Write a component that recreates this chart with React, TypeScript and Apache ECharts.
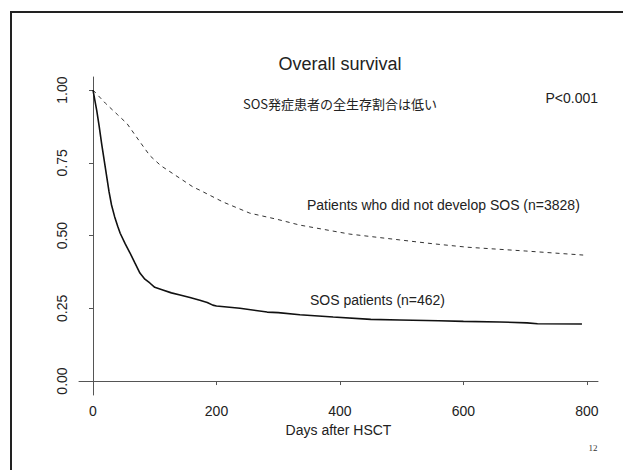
import React, { useEffect, useRef } from "react";
import * as echarts from "echarts";

const xTicks = [0, 200, 400, 600, 800];
const yTicks = [0, 0.25, 0.5, 0.75, 1.0];

const sosDays = [0, 3, 6, 10, 14, 18, 22, 26, 30, 35, 40, 44, 52, 60, 68, 76, 84, 92, 100, 113, 127, 141, 157, 173, 185, 194, 200, 238, 282, 300, 335, 389, 450, 497, 560, 600, 659, 703, 720, 792];
const sosSurv = [1.0, 0.965, 0.93, 0.875, 0.815, 0.76, 0.705, 0.65, 0.605, 0.565, 0.532, 0.508, 0.472, 0.44, 0.405, 0.371, 0.35, 0.337, 0.322, 0.313, 0.303, 0.296, 0.287, 0.278, 0.27, 0.261, 0.258, 0.25, 0.237, 0.235, 0.228, 0.22, 0.212, 0.21, 0.207, 0.205, 0.203, 0.2, 0.197, 0.196];

const noSosDays = [0, 20, 40, 55, 75, 92, 110, 130, 162, 173, 211, 254, 298, 335, 416, 497, 550, 606, 700, 794];
const noSosSurv = [1.0, 0.955, 0.915, 0.885, 0.825, 0.775, 0.74, 0.712, 0.667, 0.656, 0.615, 0.577, 0.556, 0.536, 0.505, 0.485, 0.472, 0.46, 0.447, 0.433];

const LATIN = "'Liberation Sans', Arial, Helvetica, sans-serif";
const CJK = "'Noto Sans CJK JP', sans-serif";

export default function App() {
  const ref = useRef<HTMLDivElement>(null);
  useEffect(() => {
    if (!ref.current) return;
    const chart = echarts.init(ref.current, null, { renderer: "svg" });
    chart.setOption({
      animation: false,
      backgroundColor: "#ffffff",
      grid: { left: 79, right: 25, top: 77, bottom: 75, containLabel: false, outerBoundsMode: "none" },
      xAxis: {
        type: "value",
        min: -22.7,
        max: 818,
        name: "Days after HSCT",
        nameLocation: "middle",
        nameGap: 27,
        nameTextStyle: { fontFamily: LATIN, fontSize: 14, color: "#222" },
        axisLine: { show: true, lineStyle: { color: "#555", width: 1 } },
        axisTick: { show: true, inside: false, length: 4, lineStyle: { color: "#555" }, customValues: xTicks },
        axisLabel: { fontFamily: LATIN, fontSize: 14, color: "#222", margin: 9, customValues: xTicks },
        splitLine: { show: false },
      },
      yAxis: {
        type: "value",
        min: -0.048,
        max: 1.045,
        axisLine: { show: true, lineStyle: { color: "#555", width: 1 } },
        axisTick: { show: true, inside: false, length: 4, lineStyle: { color: "#555" }, customValues: yTicks },
        axisLabel: {
          fontFamily: LATIN,
          fontSize: 14,
          color: "#222",
          rotate: 90,
          margin: 10,
          customValues: yTicks,
          formatter: (v: number) => v.toFixed(2),
        },
        splitLine: { show: false },
      },
      series: [
        {
          type: "line",
          name: "No SOS",
          data: noSosDays.map((d, i) => [d, noSosSurv[i]]),
          showSymbol: false,
          symbol: "none",
          lineStyle: { color: "#333", width: 1, type: [4, 4] },
        },
        {
          type: "line",
          name: "SOS",
          data: sosDays.map((d, i) => [d, sosSurv[i]]),
          showSymbol: false,
          symbol: "none",
          lineStyle: { color: "#111", width: 1.6 },
        },
      ],
      graphic: [
        {
          type: "rect",
          shape: { x: 11, y: 12, width: 640, height: 500 },
          style: { fill: "none", stroke: "#222", lineWidth: 2 },
          silent: true,
        },
        {
          type: "text",
          x: 340,
          y: 64,
          style: { text: "Overall survival", font: `18px ${LATIN}`, fill: "#222", textAlign: "center", textVerticalAlign: "middle" },
        },
        {
          type: "text",
          x: 340,
          y: 103,
          style: { text: "SOS発症患者の全生存割合は低い", font: `13px ${CJK}`, fill: "#222", textAlign: "center", textVerticalAlign: "middle" },
        },
        {
          type: "text",
          x: 598,
          y: 98,
          style: { text: "P<0.001", font: `14px ${LATIN}`, fill: "#222", textAlign: "right", textVerticalAlign: "middle" },
        },
        {
          type: "text",
          x: 307,
          y: 205,
          style: { text: "Patients who did not develop SOS (n=3828)", font: `14px ${LATIN}`, fill: "#222", textAlign: "left", textVerticalAlign: "middle" },
        },
        {
          type: "text",
          x: 310,
          y: 300,
          style: { text: "SOS patients (n=462)", font: `14px ${LATIN}`, fill: "#222", textAlign: "left", textVerticalAlign: "middle" },
        },
        {
          type: "text",
          x: 593,
          y: 448,
          style: { text: "12", font: `9px 'Liberation Serif', 'DejaVu Serif', serif`, fill: "#333", textAlign: "center", textVerticalAlign: "middle" },
        },
      ],
    });
    return () => chart.dispose();
  }, []);
  return (
    <div
      ref={ref}
      style={{ position: "absolute", left: 0, top: 0, width: 623, height: 470, background: "#fff" }}
    />
  );
}
